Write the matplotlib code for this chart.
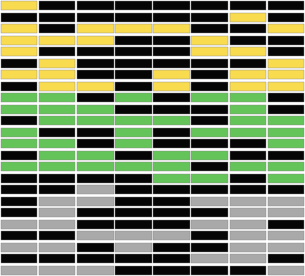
import numpy as np
import matplotlib
matplotlib.use("Agg")
import matplotlib.pyplot as plt

# K = black (off), Y = yellow, G = green, A = gray
yellow_rows = [
    "YKKKKKKK",
    "KKKKKKYK",
    "YKYYYKKY",
    "YYYKKYKK",
    "YKKKKYYK",
    "KYKKKKKY",
    "YYKKYKYY",
    "KYYKYKYY",
]
green_rows = [
    "GGKGKGGK",
    "GGGKKKGK",
    "KGGGGKGG",
    "GKKGKGGG",
    "GGKGKKKG",
    "KGGKGGKK",
    "GGGGGKGG",
    "KKKKGGKG",
]
gray_rows = [
    "KKAKKKKK",
    "KAAKKAAA",
    "KAKKKKAA",
    "AAKKKAAK",
    "KKAAAKAA",
    "AAKAKKAA",
    "KKKKKAAK",
    "AAAKKKKA",
]

colors = {"K": "#050505", "Y": "#f9db4f", "G": "#65c459", "A": "#a9a9a9"}
rows = yellow_rows + green_rows + gray_rows
n_rows, n_cols = len(rows), len(rows[0])

fig = plt.figure(figsize=(3.05, 2.76), dpi=100)
ax = fig.add_axes([0, 0, 1, 1])
for i, r in enumerate(rows):
    ax.barh(np.full(n_cols, i + 0.5), np.full(n_cols, 0.955), height=0.82,
            left=np.arange(n_cols) + 0.0225,
            color=[colors[c] for c in r],
            edgecolor="#888888", linewidth=0.3)
ax.set_xlim(0, n_cols)
ax.set_ylim(n_rows, 0)
ax.axis("off")

plt.savefig("out.png", dpi=100)
